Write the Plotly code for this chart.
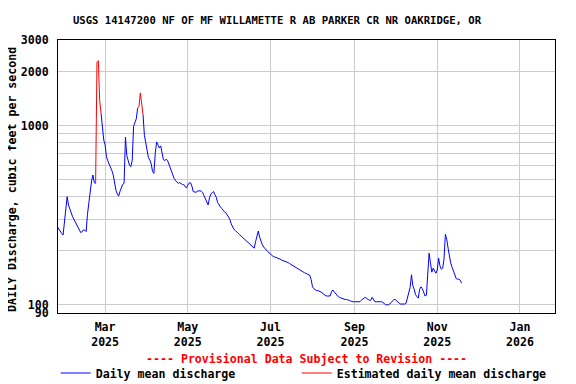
import math
import pandas as pd
import plotly.graph_objects as go

# ---- Data (daily mean discharge, cfs) ----
start_date = "2025-01-25"
jan = [271, 262, 256, 250, 245, 285, 360]
feb = [401, 360, 340, 328, 310, 300, 290, 278, 267, 258, 253, 255, 262, 261,
       256, 320, 375, 420, 490, 530, 480, 476, 2250, 2300, 1380, 1170, 990, 830]
mar = [780, 670, 635, 610, 589, 560, 530, 465, 435, 415, 404, 430, 455, 470,
       476, 860, 680, 630, 600, 590, 640, 990, 1040, 1090, 1250, 1280, 1520,
       1330, 1150, 880, 800]
apr = [730, 660, 643, 610, 555, 541, 700, 810, 780, 750, 770, 710, 645, 638,
       648, 640, 610, 585, 553, 525, 505, 492, 484, 476, 480, 472, 469, 468,
       456, 448]
may = [465, 478, 480, 460, 428, 424, 424, 430, 433, 433, 430, 422, 405, 388,
       376, 361, 395, 415, 422, 428, 412, 398, 372, 360, 352, 345, 335, 330,
       327, 318, 310]
jun = [300, 283, 272, 264, 260, 254, 251, 247, 243, 239, 236, 232, 228, 223,
       219, 215, 212, 209, 207, 225, 245, 258, 238, 225, 216, 210, 207, 202,
       198, 195]
jul = [192, 187, 186, 185, 184, 183, 181, 180, 178, 177, 175, 174, 174, 172,
       170, 168, 166, 164, 163, 161, 159, 157, 155, 153, 152, 151, 150, 149,
       148, 146, 138]
aug = [126, 123, 121, 120, 120, 119, 119, 117, 115, 113, 112, 112, 112, 112,
       118, 121, 118, 115, 112, 111, 110, 109, 108, 107, 107, 107, 107, 106,
       105, 104, 104]
sep = [104, 104, 104, 104, 104, 106, 108, 109, 110, 108, 107, 106, 106, 110,
       107, 104, 104, 104, 104, 104, 104, 103, 101, 100, 100, 100, 101, 103,
       106, 107]
oct_ = [107, 105, 104, 102, 101, 101, 101, 101, 102, 110, 119, 125, 147, 128,
        122, 114, 111, 109, 122, 126, 123, 116, 112, 113, 160, 194, 172, 152,
        160, 153, 150]
nov = [156, 182, 165, 158, 160, 180, 247, 232, 207, 182, 170, 162, 154, 146,
       140, 139, 139, 137, 132]

estimated_periods = [("2025-02-22", "2025-02-26"), ("2025-03-25", "2025-03-29")]

x_tick_dates = ["2025-03-01", "2025-05-01", "2025-07-01", "2025-09-01",
                "2025-11-01", "2026-01-01"]
x_tick_text = ["Mar<br>2025", "May<br>2025", "Jul<br>2025", "Sep<br>2025",
               "Nov<br>2025", "Jan<br>2026"]
y_grid_vals = [90, 100, 200, 300, 400, 500, 600, 700, 800, 900, 1000, 2000, 3000]
y_labeled = {90, 100, 1000, 2000, 3000}

title_text = "USGS 14147200 NF OF MF WILLAMETTE R AB PARKER CR NR OAKRIDGE, OR"
y_title = "DAILY Discharge, cubic feet per second"
provisional = "---- Provisional Data Subject to Revision ----"

# ---- Build series ----
flow = jan + feb + mar + apr + may + jun + jul + aug + sep + oct_ + nov
dates = pd.date_range(start_date, periods=len(flow), freq="D")

est_flow, obs_flow = [], []
for d, v in zip(dates, flow):
    inside = any(pd.Timestamp(s) <= d <= pd.Timestamp(e) for s, e in estimated_periods)
    strict = any(pd.Timestamp(s) < d < pd.Timestamp(e) for s, e in estimated_periods)
    est_flow.append(v if inside else None)
    obs_flow.append(None if strict else v)

FONT = "DejaVu Sans Mono"
fnt = dict(family=FONT, size=11.6, color="black", weight="bold")

# The page body adds an 8px margin; lay out in page pixels and shift.
OFF = 8
W, H = 576 - OFF, 384 - OFF
L, R, T, B = 58, 555, 40, 313          # plot area in page pixels
PW, PH = R - L, B - T

fig = go.Figure()
fig.add_trace(go.Scatter(x=dates, y=obs_flow, mode="lines",
                         line=dict(color="#0000ff", width=1),
                         connectgaps=False, legend="legend",
                         name="Daily mean discharge"))
fig.add_trace(go.Scatter(x=dates, y=est_flow, mode="lines",
                         line=dict(color="#ff0000", width=1),
                         connectgaps=False, legend="legend2",
                         name="Estimated daily mean discharge"))

leg_common = dict(orientation="h", xanchor="left", y=(B - 373) / PH, yanchor="middle",
                  font=fnt, itemwidth=30, bgcolor="rgba(0,0,0,0)")

fig.update_layout(
    width=W, height=H,
    margin=dict(l=L - OFF, r=W - (R - OFF), t=T - OFF, b=H - (B - OFF), autoexpand=False),
    paper_bgcolor="white", plot_bgcolor="white",
    font=fnt,
    title=dict(text=title_text, font=dict(family=FONT, size=10.6, color="black", weight="bold"),
               x=(277 - OFF) / W, xref="container", xanchor="center",
               y=1 - (20 - OFF) / H, yref="container", yanchor="middle"),
    showlegend=True,
    legend=dict(x=(55.7 - L) / PW, **leg_common),
    legend2=dict(x=(296.7 - L) / PW, **leg_common),
    annotations=[
        dict(text=provisional, x=0.5, xref="paper", y=(B - 359) / PH,
             yref="paper", xanchor="center", yanchor="middle", showarrow=False,
             font=dict(family=FONT, size=11.6, color="#ff0000", weight="bold")),
        dict(text=y_title, x=(12 - L) / PW, xref="paper", y=(B - 180) / PH,
             yref="paper", xanchor="center", yanchor="middle", showarrow=False,
             textangle=-90, borderpad=0, font=fnt),
    ],
)

fig.update_xaxes(
    type="date",
    range=["2025-01-25 06:00", "2026-01-26 21:00"],
    tickvals=x_tick_dates, ticktext=x_tick_text,
    showgrid=True, gridcolor="#cccccc", gridwidth=1,
    showline=True, mirror=True, linecolor="black", linewidth=1,
    ticks="", zeroline=False, tickfont=fnt, automargin=False,
    ticklabelstandoff=3,
)
fig.update_yaxes(
    type="log",
    range=[math.log10(90), math.log10(3000)],
    tickvals=y_grid_vals,
    ticktext=[str(v) if v in y_labeled else "" for v in y_grid_vals],
    showgrid=True, gridcolor="#cccccc", gridwidth=1,
    showline=True, mirror=True, linecolor="black", linewidth=1,
    ticks="", zeroline=False, tickfont=fnt, ticklabelstandoff=6,
    automargin=False,
)

fig.write_html("out.html")
